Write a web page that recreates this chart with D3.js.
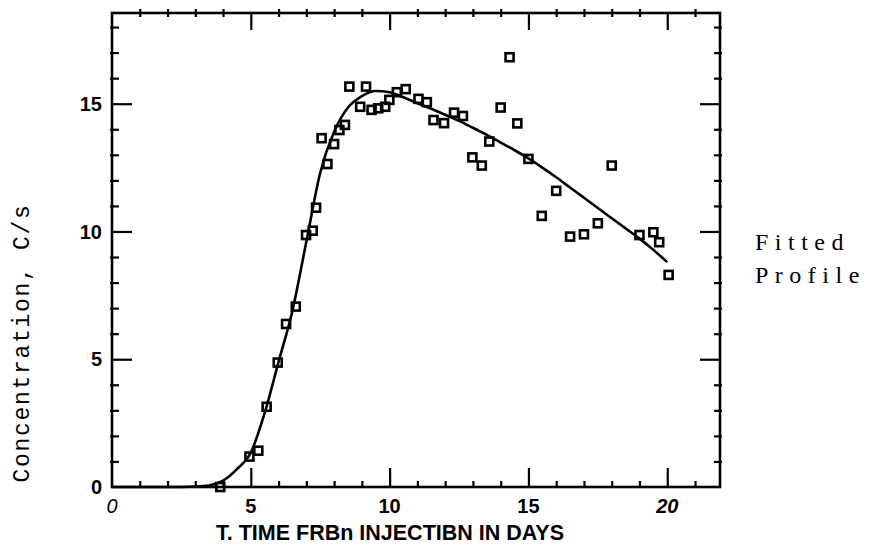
<!DOCTYPE html>
<html>
<head>
<meta charset="utf-8">
<script src="https://cdn.jsdelivr.net/npm/d3@7"></script>
<style>
  body { margin: 0; background: #fff; }
  svg { display: block; }
</style>
</head>
<body>
<div id="chart"></div>
<script>
    // Observed concentrations (squares)
    const days = [3.9, 4.95, 5.27, 5.57, 5.97, 6.27, 6.62, 6.99, 7.23, 7.35, 7.55, 7.76, 8.0, 8.19, 8.39, 8.55,
        8.94, 9.15, 9.35, 9.59, 9.84, 9.99, 10.26, 10.58, 11.04, 11.34, 11.58, 11.96, 12.32, 12.64, 12.98, 13.32,
        13.59, 14.0, 14.32, 14.6, 15.0, 15.48, 16.0, 16.5, 17.0, 17.5, 18.0, 19.0, 19.5, 19.71, 20.05];
    const conc = [0.0, 1.19, 1.42, 3.14, 4.87, 6.38, 7.06, 9.86, 10.03, 10.93, 13.65, 12.64, 13.42, 13.97, 14.17, 15.67,
        14.88, 15.67, 14.76, 14.82, 14.88, 15.15, 15.45, 15.57, 15.19, 15.06, 14.36, 14.24, 14.65, 14.52, 12.9, 12.58,
        13.52, 14.85, 16.82, 14.23, 12.84, 10.61, 11.59, 9.8, 9.89, 10.32, 12.58, 9.86, 9.97, 9.58, 8.3];

    // Fitted profile (solid line)
    const fitT = [0, 1, 2, 3, 3.5, 4, 4.5, 5, 5.5, 6, 6.5, 7, 7.5, 8, 8.5, 9, 9.5, 10, 10.5, 11, 11.5, 12, 12.5, 13,
        13.5, 14, 14.5, 15, 15.5, 16, 16.5, 17, 17.5, 18, 18.5, 19, 19.5, 20];
    const fitC = [0, 0, 0, 0.02, 0.06, 0.25, 0.7, 1.35, 2.9, 4.9, 6.9, 9.6, 12.3, 13.9, 14.85, 15.3, 15.5, 15.45, 15.25,
        15.02, 14.8, 14.57, 14.33, 14.06, 13.78, 13.48, 13.18, 12.86, 12.5, 12.12, 11.72, 11.32, 10.92, 10.52,
        10.12, 9.72, 9.28, 8.8];

    // Tick labels
    const xMajor = [0, 5, 10, 15, 20];
    const xLabels = ["0", "5", "10", "15", "20"];
    const yMajor = [0, 5, 10, 15];
    const yLabels = ["0", "5", "10", "15"];

    const W = 873, H = 550;
    const svg = d3.select("#chart").append("svg")
        .attr("width", W)
        .attr("height", H);

    const x = d3.scaleLinear().domain([0, 21.9]).range([112, 720]);
    const y = d3.scaleLinear().domain([0, 18.55]).range([487, 13]);

    const x0 = x.range()[0], x1 = x.range()[1];
    const y0 = y.range()[0], y1 = y.range()[1];

    const noDomain = g => g.select(".domain").remove();
    const tickStyle = g => g.selectAll("line").attr("stroke", "#000").attr("stroke-width", 2.2);

    // minor ticks every 1 unit
    const xMinor = d3.range(0, 22).filter(v => v % 5 !== 0);
    const yMinor = d3.range(0, 19).filter(v => v % 5 !== 0);

    // bottom
    svg.append("g").attr("transform", `translate(0,${y0 + 1})`)
        .call(d3.axisBottom(x).tickValues(xMinor).tickSize(-7).tickFormat(""))
        .call(noDomain).call(tickStyle);
    svg.append("g").attr("transform", `translate(0,${y0})`)
        .call(d3.axisBottom(x).tickValues(xMajor.filter(v => v > 0)).tickSize(-19).tickFormat(""))
        .call(noDomain).call(tickStyle);
    // top
    svg.append("g").attr("transform", `translate(0,${y1 - 4})`)
        .call(d3.axisTop(x).tickValues(xMinor).tickSize(-8).tickFormat(""))
        .call(noDomain).call(tickStyle);
    svg.append("g").attr("transform", `translate(0,${y1})`)
        .call(d3.axisTop(x).tickValues(xMajor.filter(v => v > 0)).tickSize(-17).tickFormat(""))
        .call(noDomain).call(tickStyle);
    // left
    svg.append("g").attr("transform", `translate(${x0 - 2},0)`)
        .call(d3.axisLeft(y).tickValues(yMinor).tickSize(-9).tickFormat(""))
        .call(noDomain).call(tickStyle);
    svg.append("g").attr("transform", `translate(${x0},0)`)
        .call(d3.axisLeft(y).tickValues(yMajor.filter(v => v > 0)).tickSize(-20).tickFormat(""))
        .call(noDomain).call(tickStyle);
    // right
    svg.append("g").attr("transform", `translate(${x1 + 2},0)`)
        .call(d3.axisRight(y).tickValues(yMinor).tickSize(-8).tickFormat(""))
        .call(noDomain).call(tickStyle);
    svg.append("g").attr("transform", `translate(${x1},0)`)
        .call(d3.axisRight(y).tickValues(yMajor.filter(v => v > 0)).tickSize(-20).tickFormat(""))
        .call(noDomain).call(tickStyle);

    // frame
    svg.append("rect")
        .attr("x", x0).attr("y", y1)
        .attr("width", x1 - x0).attr("height", y0 - y1)
        .attr("fill", "none")
        .attr("stroke", "#000")
        .attr("stroke-width", 2.6);

    // x tick labels
    svg.append("g").selectAll("text")
        .data(xMajor)
        .enter().append("text")
        .attr("x", d => x(d))
        .attr("y", 513)
        .attr("text-anchor", "middle")
        .attr("font-family", "Liberation Sans, Arial, sans-serif")
        .attr("font-size", 20)
        .attr("font-weight", d => d === 0 ? "normal" : "bold")
        .attr("font-style", d => (d === 0 || d === 20) ? "italic" : "normal")
        .text((d, i) => xLabels[i]);

    // y tick labels
    svg.append("g").selectAll("text")
        .data(yMajor)
        .enter().append("text")
        .attr("x", 102)
        .attr("y", d => y(d))
        .attr("dy", "0.36em")
        .attr("text-anchor", "end")
        .attr("font-family", "Liberation Sans, Arial, sans-serif")
        .attr("font-size", 20)
        .attr("font-weight", "bold")
        .text((d, i) => yLabels[i]);

    // fitted line
    svg.append("path")
        .datum(fitT.map((t, i) => [t, fitC[i]]))
        .attr("fill", "none")
        .attr("stroke", "#000")
        .attr("stroke-width", 2.6)
        .attr("d", d3.line()
            .x(d => x(d[0]))
            .y(d => y(d[1]))
            .curve(d3.curveMonotoneX));

    // observed squares
    const s = 8;
    svg.append("g").selectAll("rect")
        .data(days.map((t, i) => [t, conc[i]]))
        .enter().append("rect")
        .attr("x", d => x(d[0]) - s / 2)
        .attr("y", d => y(d[1]) - s / 2)
        .attr("width", s)
        .attr("height", s)
        .attr("fill", "none")
        .attr("stroke", "#000")
        .attr("stroke-width", 2.6);

    // axis titles
    svg.append("text")
        .attr("transform", "translate(29,343) rotate(-90)")
        .attr("text-anchor", "middle")
        .attr("font-family", "Liberation Mono, Courier New, monospace")
        .attr("font-size", 23)
        .attr("letter-spacing", 1.7)
        .text("Concentration, C/s");

    svg.append("text")
        .attr("x", 390)
        .attr("y", 540)
        .attr("text-anchor", "middle")
        .attr("font-family", "Liberation Sans, Arial, sans-serif")
        .attr("font-size", 21.5)
        .attr("font-weight", "bold")
        .text("T. TIME FRBn INJECTIBN IN DAYS");

    // side note
    const note = svg.append("text")
        .attr("font-family", "Liberation Serif, Times New Roman, serif")
        .attr("font-size", 24)
        .attr("letter-spacing", 6.5);
    note.append("tspan").attr("x", 755).attr("y", 250).text("Fitted");
    note.append("tspan").attr("x", 755).attr("y", 283).text("Profile");
</script>
</body>
</html>
